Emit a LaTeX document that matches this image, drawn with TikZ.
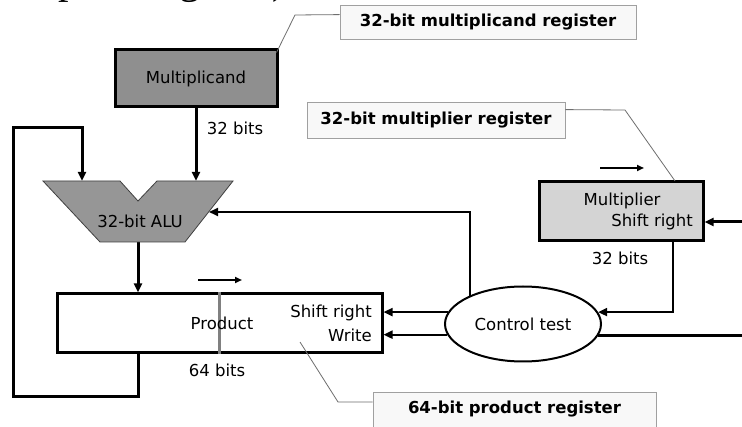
\documentclass[tikz,border=0pt]{standalone}
\usepackage{fontspec}
\setmainfont{DejaVu Sans}
\newfontfamily\titlefont{Liberation Serif}
\usetikzlibrary{arrows.meta,shapes.geometric,calc}
\pgfdeclarelayer{bg}
\pgfdeclarelayer{paper}
\pgfsetlayers{paper,bg,main}
\definecolor{mcandgray}{RGB}{143,143,143}
\definecolor{alugray}{RGB}{150,150,150}
\definecolor{mpliergray}{RGB}{212,212,212}
\definecolor{calloutfill}{RGB}{248,248,248}
\definecolor{calloutedge}{RGB}{160,160,160}
\definecolor{leadergray}{RGB}{110,110,110}
\tikzset{
  txt/.style={font=\fontsize{16.5}{18}\selectfont, inner sep=0pt},
  reg/.style={draw=black, line width=3pt, txt},
  bus/.style={draw=black, line width=3pt},
  ctrl/.style={draw=black, line width=2pt},
  tip/.style={-{Triangle[length=9pt,width=8pt]}},
  smalltip/.style={-{Triangle[length=7pt,width=6pt]}},
  shiftmark/.style={draw=black, line width=2pt, smalltip},
  callout/.style={draw=calloutedge, line width=0.8pt, fill=calloutfill,
    font=\bfseries\fontsize{16.5}{18}\selectfont},
  leader/.style={draw=leadergray, line width=0.8pt},
}
\begin{document}
\begin{tikzpicture}[x=1pt,y=-1pt]
\useasboundingbox (0,0) rectangle (742,427);
\clip (0,0) rectangle (742,427);
\begin{pgfonlayer}{paper}
\fill[white] (0,0) rectangle (742,427);
\end{pgfonlayer}

% heading line running off the top edge
\node[anchor=base west, inner sep=0pt, font=\titlefont\fontsize{42}{42}\selectfont]
  (heading) at (-30,-6) {multiplier register)};

% registers
\node[reg, fill=mcandgray, minimum width=162pt, minimum height=57pt] (mcand) at (196,78.5) {Multiplicand};
\node[reg, fill=white, minimum width=325pt, minimum height=59pt] (prod) at (219.5,323.5) {};
\node[reg, fill=mpliergray, minimum width=164pt, minimum height=59pt] (mplier) at (621,211.5) {};
\node[txt] (mplierA) at (622,201) {Multiplier};
\node[txt, anchor=east] (mplierB) at (693,222) {Shift right};

% product register contents
\draw[draw=gray, line width=3pt] (prod.north) -- (prod.south);
\node[txt] (prodtxt) at (222,323) {Product};
\node[txt, anchor=east] (prodshift) at (372,313) {Shift right};
\node[txt, anchor=east] (prodwrite) at (372,335) {Write};

% ALU with its notched top
\filldraw[fill=alugray, draw=black!75, line width=0.8pt]
  (43,181) -- (120,181) -- (138,201) -- (157,181) -- (233,181) -- (185,242) -- (100,242) -- cycle;
\node[txt] (alutxt) at (140,221) {32-bit ALU};
\coordinate (aluL) at (82,181);
\coordinate (aluR) at (196,181);
\coordinate (aluB) at (138,242);
\coordinate (aluE) at (209,212);

% control unit
\node[ctrl, fill=white, ellipse, minimum width=156pt, minimum height=75pt, txt] (ctl) at (523,324) {Control test};

% width labels
\node[txt] (w1) at (235,128) {32 bits};
\node[txt] (w2) at (620,258) {32 bits};
\node[txt] (w3) at (217,370) {64 bits};

% data paths
\begin{pgfonlayer}{bg}
\draw[bus, tip] (mcand.south) -- (aluR);
\draw[bus, tip] (aluB) -- (aluB |- prod.north);
\coordinate (loopLow) at (13,397);
\coordinate (loopHigh) at (13,128);
\draw[bus, tip] (prod.south -| aluB) -- (aluB |- loopLow) -- (loopLow) -- (loopHigh)
  -- (loopHigh -| aluL) -- (aluL);
\draw[ctrl, tip] (ctl.152) -- (ctl.152 |- aluE) -- (aluE);
\draw[ctrl, tip] (ctl.171.6) -- (ctl.171.6 -| prod.east);
\draw[ctrl, tip] (ctl.188.4) -- (ctl.188.4 -| prod.east);
\coordinate (mtap) at (673,241);
\draw[ctrl, tip] (mtap) -- (mtap |- ctl.9.2) -- (ctl.9.2);
\coordinate (rin) at (742,222);
\draw[bus, tip] (rin) -- (rin -| mplier.east);
\draw[bus] (ctl.351.6) -- (ctl.351.6 -| rin);
\end{pgfonlayer}

% shift direction marks
\coordinate (ps) at (198,280);
\coordinate (pe) at (242,280);
\draw[shiftmark] (ps) -- (pe);
\coordinate (ms) at (600,168);
\coordinate (me) at (644,168);
\draw[shiftmark] (ms) -- (me);

% callouts
\node[callout, minimum width=296pt, minimum height=34pt] (c1) at (488,22) {32-bit multiplicand register};
\node[callout, minimum width=258pt, minimum height=36pt] (c2) at (436,120) {32-bit multiplier register};
\node[callout, anchor=north, minimum width=283pt, inner ysep=9pt, text height=12pt, text depth=30pt]
  (c3) at (514.5,392) {64-bit product register};

\coordinate (k1) at (295,15);
\draw[leader] ($(c1.north west)+(0,10)$) -- (k1) -- ($(mcand.north east)+(-2,4)$);
\coordinate (k2) at (625,110);
\coordinate (m2) at (675,181);
\draw[leader] ($(c2.north east)+(0,8)$) -- (k2) -- (m2);
\coordinate (k3) at (338,402);
\coordinate (p3) at (300,342);
\draw[leader] ($(c3.north west)+(0,10)$) -- (k3) -- (p3);
\end{tikzpicture}
\end{document}
